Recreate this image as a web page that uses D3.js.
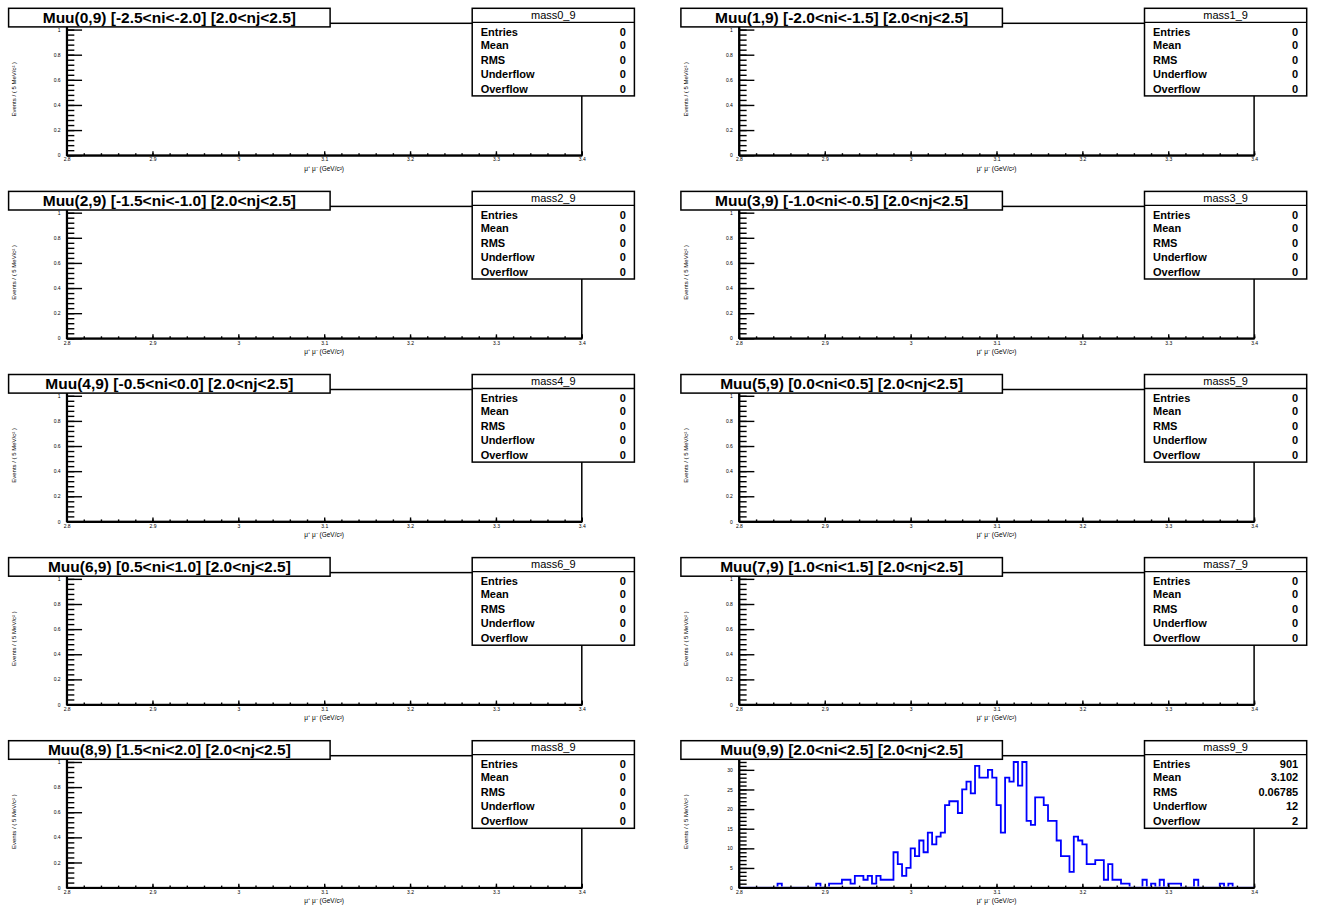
<!DOCTYPE html>
<html>
<head>
<meta charset="utf-8">
<script src="https://cdn.jsdelivr.net/npm/d3@7"></script>
<style>
  html, body { margin: 0; padding: 0; background: #fff; }
  svg { display: block; }
  text { font-family: "Liberation Sans", Arial, Helvetica, sans-serif; }
</style>
</head>
<body>
<svg id="canvas" width="1321" height="907"></svg>
<script>
// ---- pad titles and histogram names (pads ordered row by row, two per row) ----
const padTitles = [
  "Muu(0,9) [-2.5<ni<-2.0] [2.0<nj<2.5]",
  "Muu(1,9) [-2.0<ni<-1.5] [2.0<nj<2.5]",
  "Muu(2,9) [-1.5<ni<-1.0] [2.0<nj<2.5]",
  "Muu(3,9) [-1.0<ni<-0.5] [2.0<nj<2.5]",
  "Muu(4,9) [-0.5<ni<0.0] [2.0<nj<2.5]",
  "Muu(5,9) [0.0<ni<0.5] [2.0<nj<2.5]",
  "Muu(6,9) [0.5<ni<1.0] [2.0<nj<2.5]",
  "Muu(7,9) [1.0<ni<1.5] [2.0<nj<2.5]",
  "Muu(8,9) [1.5<ni<2.0] [2.0<nj<2.5]",
  "Muu(9,9) [2.0<ni<2.5] [2.0<nj<2.5]"
];
const histNames = ["mass0_9", "mass1_9", "mass2_9", "mass3_9", "mass4_9",
                   "mass5_9", "mass6_9", "mass7_9", "mass8_9", "mass9_9"];

// ---- statistics boxes ----
const statLabels = ["Entries", "Mean", "RMS", "Underflow", "Overflow"];
const statValues = [
  ["0", "0", "0", "0", "0"],
  ["0", "0", "0", "0", "0"],
  ["0", "0", "0", "0", "0"],
  ["0", "0", "0", "0", "0"],
  ["0", "0", "0", "0", "0"],
  ["0", "0", "0", "0", "0"],
  ["0", "0", "0", "0", "0"],
  ["0", "0", "0", "0", "0"],
  ["0", "0", "0", "0", "0"],
  ["901", "3.102", "0.06785", "12", "2"]
];

// ---- dimuon mass binning: 120 bins of 5 MeV between 2.8 and 3.4 GeV ----
const massRange = [2.8, 3.4];
const binWidth = 0.005;

// bin contents of mass9_9 (all other histograms are empty)
const counts9 = [
  0, 0, 0, 0, 0, 0, 0, 0, 0, 1,
  0, 0, 0, 0, 0, 0, 0, 0, 1, 0,
  0, 1, 1, 1, 2, 2, 1, 3, 3, 2,
  3, 1, 3, 2, 2, 2, 9, 6, 3, 5,
  10, 8, 12, 9, 14, 11, 13, 14, 21, 22,
  22, 19, 25, 27, 24, 31, 28, 28, 30, 28,
  21, 14, 28, 27, 32, 26, 32, 17, 16, 23,
  23, 21, 17, 17, 12, 8, 8, 4, 13, 12,
  11, 6, 6, 7, 7, 2, 6, 2, 2, 1,
  1, 0, 0, 0, 2, 0, 1, 0, 2, 0,
  1, 1, 1, 0, 0, 0, 2, 0, 0, 0,
  0, 0, 1, 0, 1, 0, 0, 0, 0, 0
];
const padCounts = [null, null, null, null, null, null, null, null, null, counts9];

// ---- axis ticks and titles ----
const xMajorTicks = [2.8, 2.9, 3.0, 3.1, 3.2, 3.3, 3.4];
const xMajorLabels = ["2.8", "2.9", "3", "3.1", "3.2", "3.3", "3.4"];
const yEmptyTicks = [0, 0.2, 0.4, 0.6, 0.8, 1];
const yEmptyLabels = ["0", "0.2", "0.4", "0.6", "0.8", "1"];
const yFilledTicks = [0, 5, 10, 15, 20, 25, 30];
const xTitle = "\u03BC\u207A \u03BC\u207B (GeV/c\u00B2)";
const yTitle = "Events / ( 5 MeV/c\u00B2 )";

// ---- canvas layout ----
const padPitchX = 672.3, padPitchY = 183.1;
const frame = { left: 66.6, right: 581.8, top: 23.3, bottom: 155.2 };
const titleBox = { x: 8.6, y: 8.3, w: 321.5, h: 18.6 };
const statBox = { x: 472.2, y: 8.3, w: 162.2, h: 87.6, head: 14 };
const statRowY = [31.6, 45.0, 59.6, 73.6, 88.6];   // row centres

const svg = d3.select("#canvas");
const ink = "#000";

padTitles.forEach((title, i) => {
  const col = i % 2, row = Math.floor(i / 2);
  const pad = svg.append("g")
    .attr("transform", `translate(${col * padPitchX},${row * padPitchY})`);

  const counts = padCounts[i];
  const yMax = counts ? d3.max(counts) * 1.05 : 1.05;

  const x = d3.scaleLinear().domain(massRange).range([frame.left, frame.right]);
  const y = d3.scaleLinear().domain([0, yMax]).range([frame.bottom, frame.top]);

  // frame box
  pad.append("rect")
    .attr("x", frame.left).attr("y", frame.top)
    .attr("width", frame.right - frame.left).attr("height", frame.bottom - frame.top)
    .attr("fill", "none").attr("stroke", ink).attr("stroke-width", 1.5);

  // histogram outline, kept inside the frame
  if (counts) {
    const clipId = `clip${i}`;
    pad.append("clipPath").attr("id", clipId)
      .append("rect")
      .attr("x", frame.left).attr("y", frame.top)
      .attr("width", frame.right - frame.left).attr("height", frame.bottom - frame.top - 1);
    const pts = [];
    counts.forEach((c, k) => {
      const lo = massRange[0] + k * binWidth;
      pts.push([lo, c], [lo + binWidth, c]);
    });
    const line = d3.line().x(d => x(d[0])).y(d => y(d[1]));
    pad.append("path")
      .attr("clip-path", `url(#${clipId})`)
      .attr("d", line(pts))
      .attr("fill", "none").attr("stroke", "#0000ff")
      .attr("stroke-width", 1.8).attr("stroke-linejoin", "miter");
  }

  // x axis: minor then major ticks, drawn inward
  const xMinorTicks = d3.range(0, 31).map(k => massRange[0] + k * 0.02);
  const tickLenX = 0.03 * (frame.bottom - frame.top);
  pad.append("g")
    .attr("transform", `translate(0,${frame.bottom})`)
    .call(d3.axisBottom(x).tickValues(xMinorTicks).tickSize(-tickLenX / 2).tickSizeOuter(0).tickFormat(""))
    .call(g => g.select(".domain").remove())
    .call(g => g.selectAll("line").attr("stroke-width", 1.4));
  const gx = pad.append("g")
    .attr("transform", `translate(0,${frame.bottom})`)
    .call(d3.axisBottom(x).tickValues(xMajorTicks).tickSize(-tickLenX).tickSizeOuter(0)
      .tickPadding(4).tickFormat((d, k) => xMajorLabels[k]));
  gx.select(".domain").attr("stroke-width", 2);
  gx.selectAll("line").attr("stroke-width", 1.4);
  gx.selectAll("text").attr("font-size", 5).attr("font-family", "Liberation Sans, Arial, sans-serif")
    .attr("dy", "0.35em").attr("y", 4.5);

  // y axis
  const tickLenY = 0.03 * (frame.right - frame.left);
  const yMajor = counts ? yFilledTicks : yEmptyTicks;
  const yStep = counts ? 1 : 0.04;
  const yMinor = d3.range(0, Math.floor(yMax / yStep + 1e-6) + 1).map(k => k * yStep);
  pad.append("g")
    .attr("transform", `translate(${frame.left},0)`)
    .call(d3.axisLeft(y).tickValues(yMinor).tickSize(-tickLenY / 2).tickSizeOuter(0).tickFormat(""))
    .call(g => g.select(".domain").remove())
    .call(g => g.selectAll("line").attr("stroke-width", 1.4));
  const gy = pad.append("g")
    .attr("transform", `translate(${frame.left},0)`)
    .call(d3.axisLeft(y).tickValues(yMajor).tickSize(-tickLenY).tickSizeOuter(0)
      .tickPadding(6).tickFormat((d, k) => counts ? String(d) : yEmptyLabels[k]));
  gy.select(".domain").attr("stroke-width", 2);
  gy.selectAll("line").attr("stroke-width", 1.4);
  gy.selectAll("text").attr("font-size", 5).attr("font-family", "Liberation Sans, Arial, sans-serif");

  // axis titles
  pad.append("text")
    .attr("x", (frame.left + frame.right) / 2).attr("y", frame.bottom + 15.5)
    .attr("text-anchor", "middle").attr("font-size", 6.5)
    .text(xTitle);
  pad.append("text")
    .attr("transform", `translate(16,${(frame.top + frame.bottom) / 2}) rotate(-90)`)
    .attr("text-anchor", "middle").attr("font-size", 6)
    .text(yTitle);

  // title box
  pad.append("rect")
    .attr("x", titleBox.x).attr("y", titleBox.y)
    .attr("width", titleBox.w).attr("height", titleBox.h)
    .attr("fill", "#fff").attr("stroke", ink).attr("stroke-width", 1.5);
  pad.append("text")
    .attr("x", titleBox.x + titleBox.w / 2).attr("y", titleBox.y + titleBox.h / 2 + 5.3)
    .attr("text-anchor", "middle").attr("font-size", 15.5).attr("font-weight", "bold")
    .text(title);

  // statistics box
  pad.append("rect")
    .attr("x", statBox.x).attr("y", statBox.y)
    .attr("width", statBox.w).attr("height", statBox.h)
    .attr("fill", "#fff").attr("stroke", ink).attr("stroke-width", 1.5);
  pad.append("line")
    .attr("x1", statBox.x).attr("x2", statBox.x + statBox.w)
    .attr("y1", statBox.y + statBox.head).attr("y2", statBox.y + statBox.head)
    .attr("stroke", ink).attr("stroke-width", 1.3);
  pad.append("text")
    .attr("x", statBox.x + statBox.w / 2).attr("y", statBox.y + statBox.head / 2 + 3.6)
    .attr("text-anchor", "middle").attr("font-size", 11)
    .text(histNames[i]);
  statLabels.forEach((lab, k) => {
    pad.append("text")
      .attr("x", statBox.x + 8.5).attr("y", statRowY[k] + 4)
      .attr("font-size", 11).attr("font-weight", "bold")
      .text(lab);
    pad.append("text")
      .attr("x", statBox.x + statBox.w - 8.5).attr("y", statRowY[k] + 4)
      .attr("text-anchor", "end").attr("font-size", 11).attr("font-weight", "bold")
      .text(statValues[i][k]);
  });
});
</script>
</body>
</html>
